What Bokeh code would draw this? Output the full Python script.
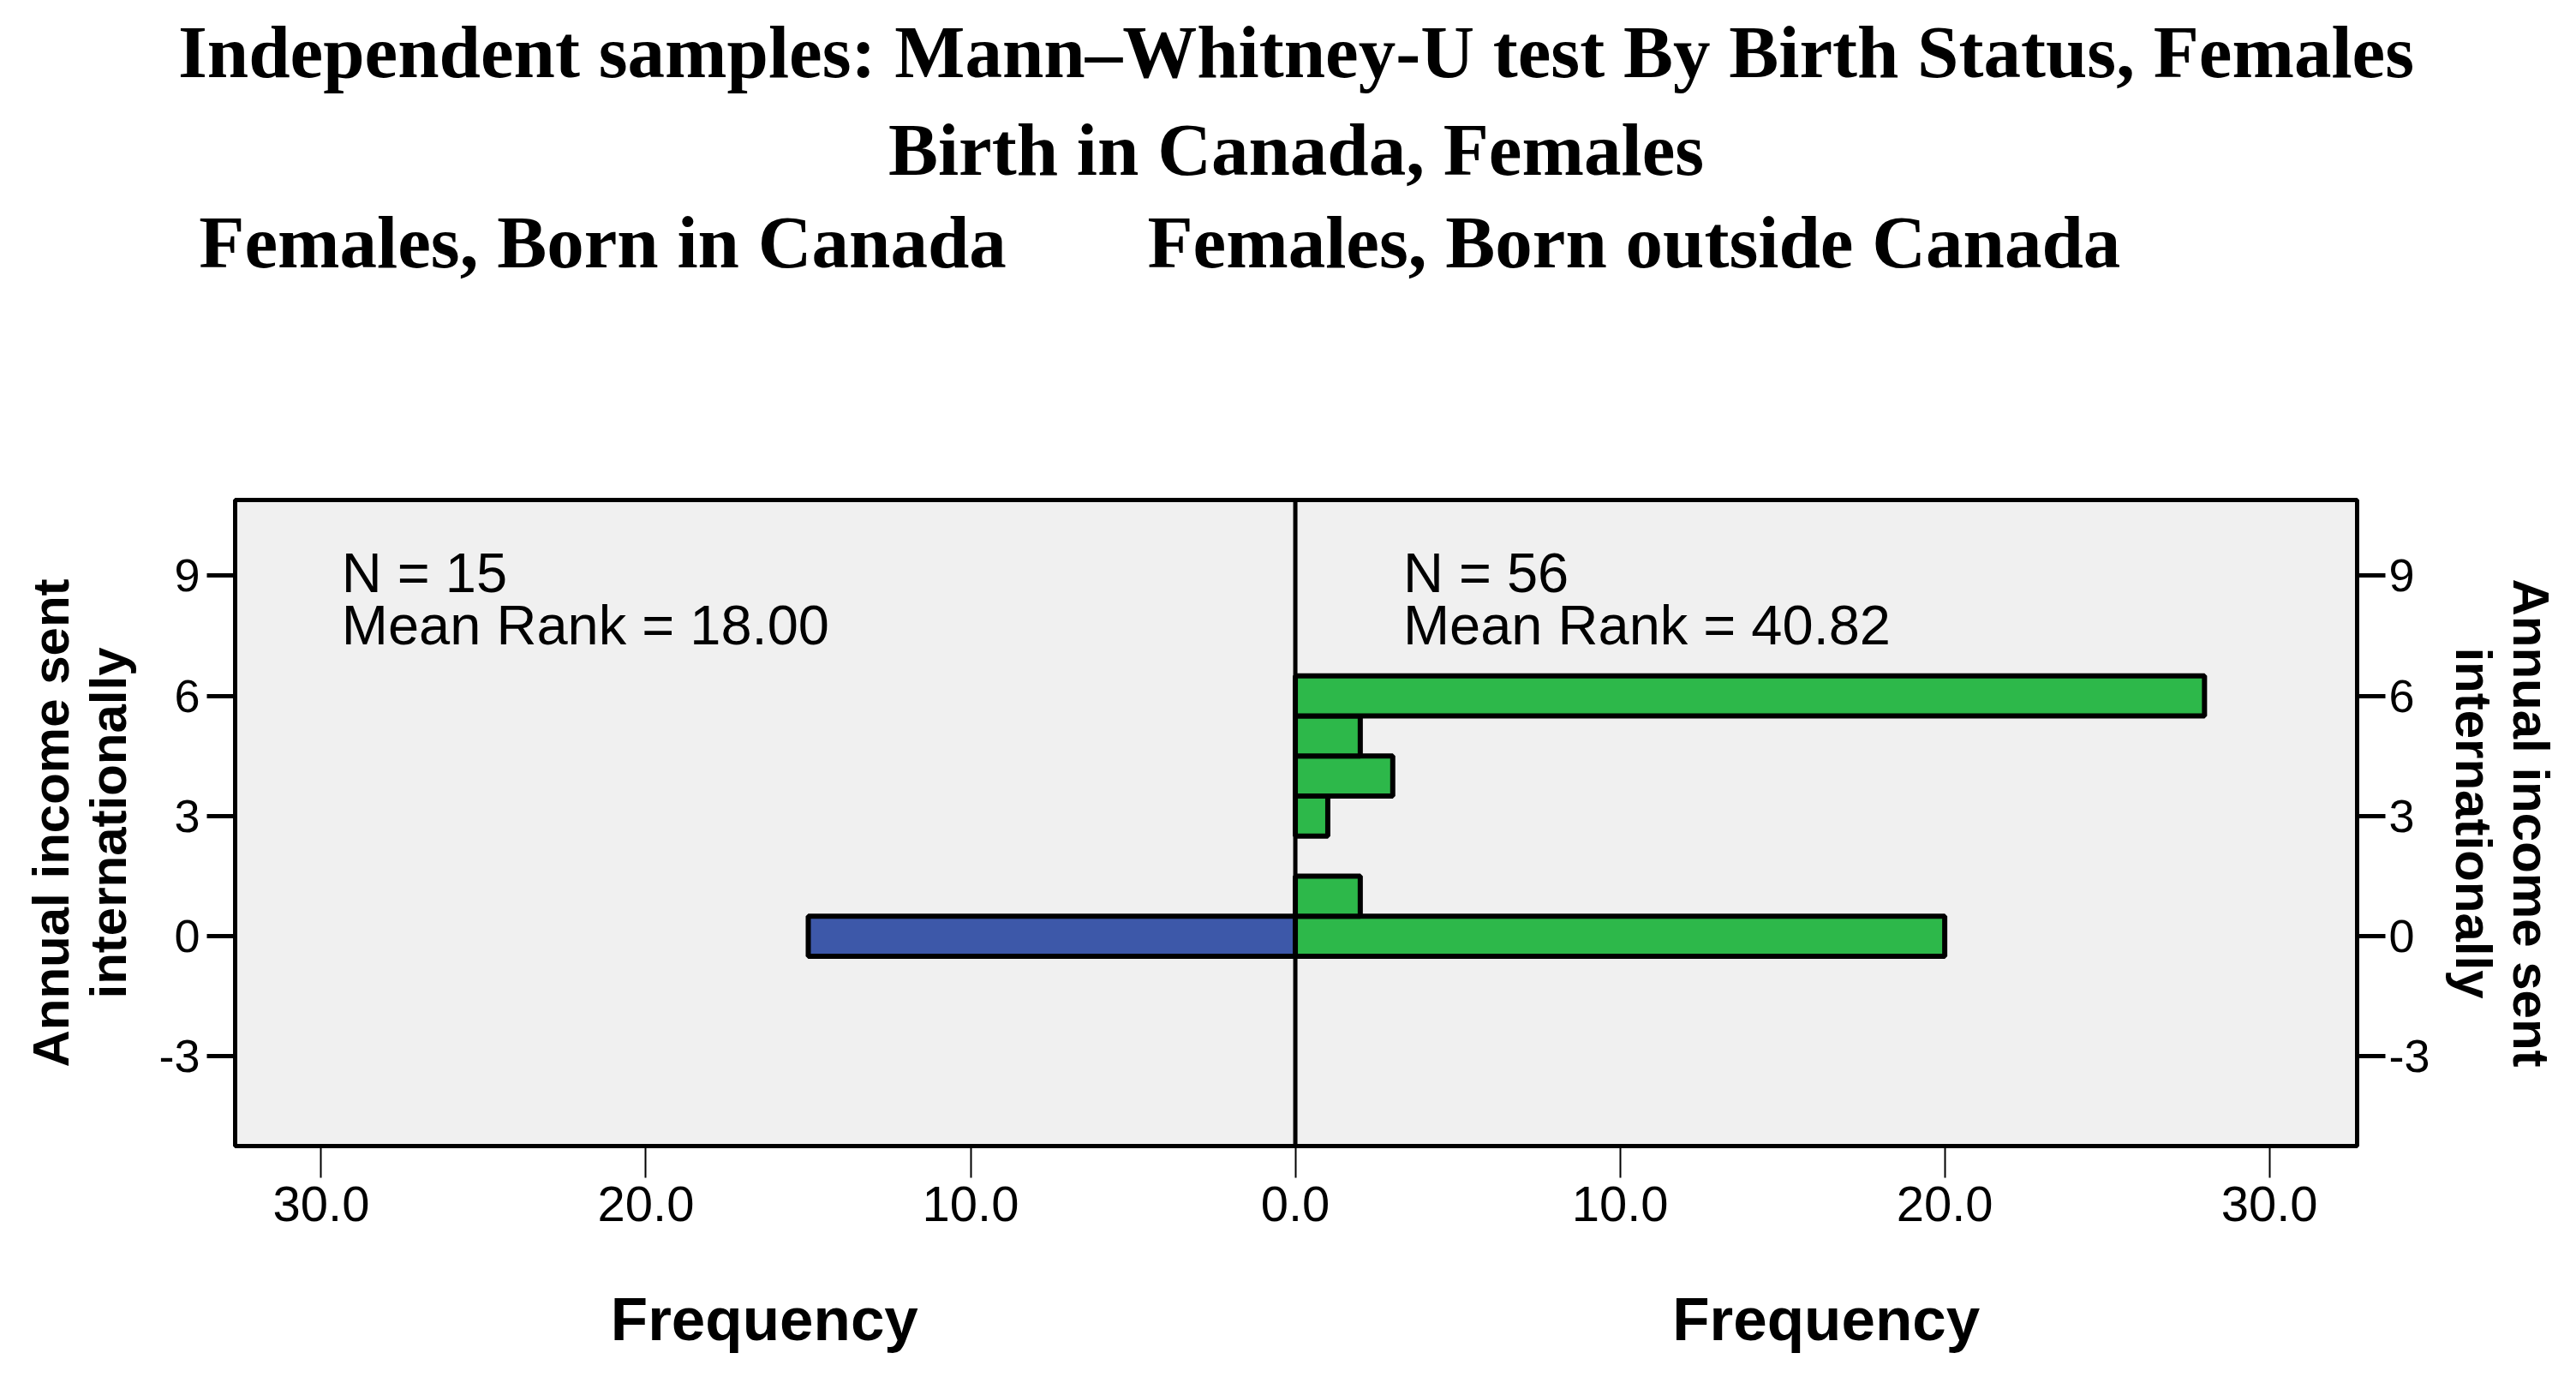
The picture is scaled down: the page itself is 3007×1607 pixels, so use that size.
from bokeh.plotting import figure
from bokeh.models import (Range1d, FixedTicker, CustomJSTickFormatter, LinearAxis,
                          Label, Span, ColumnDataSource, Title)
from bokeh.embed import file_html
from bokeh.resources import INLINE

# ---- data ----
income_bins = [0, 1, 2, 3, 4, 5, 6]
freq_born_in = [15, 0, 0, 0, 0, 0, 0]
freq_born_out = [20, 2, 0, 1, 3, 2, 28]
freq_ticks = [-30, -20, -10, 0, 10, 20, 30]
income_ticks = [-3, 0, 3, 6, 9]

title_lines = ["Independent samples: Mann\u2013Whitney-U test By Birth Status, Females",
               "Birth in Canada, Females"]
group_labels = ["Females, Born in Canada", "Females, Born outside Canada"]
group_n = [15, 56]
group_mean_rank = [18.00, 40.82]
y_label = "Annual income sent\ninternationally"
x_label = "Frequency"

BLUE = "#3d58a9"
GREEN = "#2db84a"
SANS = "Liberation Sans"
SERIF = "Liberation Serif"

W = 2990
H = 1590

p = figure(width=W, height=H, output_backend="svg", toolbar_location=None,
           x_range=Range1d(-32.65, 32.7), y_range=Range1d(-5.24, 10.89),
           min_border_left=274, min_border_right=W - 2755, min_border_top=583,
           min_border_bottom=H - 1337, y_axis_location=None, x_axis_location=None,
           title_location=None)
p.background_fill_color = "#f0f0f0"
p.border_fill_color = "white"
p.outline_line_color = "black"
p.outline_line_width = 5
p.xgrid.visible = False
p.ygrid.visible = False

left_src = ColumnDataSource(dict(
    y=[b for b, v in zip(income_bins, freq_born_in) if v > 0],
    left=[-v for v in freq_born_in if v > 0]))
right_src = ColumnDataSource(dict(
    y=[b for b, v in zip(income_bins, freq_born_out) if v > 0],
    right=[v for v in freq_born_out if v > 0]))
p.hbar(y="y", left="left", right=0, height=1, source=left_src,
       fill_color=BLUE, line_color="black", line_width=6)
p.hbar(y="y", left=0, right="right", height=1, source=right_src,
       fill_color=GREEN, line_color="black", line_width=6)

p.add_layout(Span(location=0, dimension="height", line_color="black", line_width=5))

# frequency axis
xaxis = LinearAxis(ticker=FixedTicker(ticks=freq_ticks),
                   formatter=CustomJSTickFormatter(code="return Math.abs(tick).toFixed(1);"))
xaxis.axis_line_color = None
xaxis.major_tick_in = 0
xaxis.major_tick_out = 37
xaxis.major_tick_line_width = 2
xaxis.minor_tick_line_color = None
xaxis.major_label_text_font = SANS
xaxis.major_label_text_font_size = "58px"
xaxis.major_label_text_color = "black"
xaxis.major_label_standoff = 10
p.add_layout(xaxis, "below")

# "Frequency" titles under each half, as labels of a second axis
flab = LinearAxis(ticker=FixedTicker(ticks=[-16.35, 16.35]),
                  formatter=CustomJSTickFormatter(args=dict(lbl=x_label), code="return lbl;"))
flab.axis_line_color = None
flab.major_tick_line_color = None
flab.major_tick_in = 0
flab.major_tick_out = 0
flab.minor_tick_line_color = None
flab.major_label_text_font = SANS
flab.major_label_text_font_style = "bold"
flab.major_label_text_font_size = "71px"
flab.major_label_text_color = "black"
flab.major_label_standoff = 72
p.add_layout(flab, "below")

for side in ("left", "right"):
    ax = LinearAxis(ticker=FixedTicker(ticks=income_ticks),
                    formatter=CustomJSTickFormatter(code="return String(tick);"))
    ax.axis_line_color = None
    ax.major_tick_in = 0
    ax.major_tick_out = 33
    ax.major_tick_line_width = 5
    ax.minor_tick_line_color = None
    ax.major_label_text_font = SANS
    ax.major_label_text_font_size = "54px"
    ax.major_label_text_color = "black"
    ax.major_label_standoff = 8 if side == "left" else 4
    ax.major_label_orientation = "horizontal"
    ax.axis_label = y_label
    ax.axis_label_text_font = SANS
    ax.axis_label_text_font_style = "bold"
    ax.axis_label_text_font_size = "60px"
    ax.axis_label_text_color = "black"
    ax.axis_label_text_line_height = 1.0
    ax.axis_label_standoff = 22 if side == "left" else 14
    p.add_layout(ax, side)

# group titles (third header line) as labels of an axis above the frame
glab = LinearAxis(ticker=FixedTicker(ticks=[-21.33, 10.43]),
                  formatter=CustomJSTickFormatter(args=dict(labels=group_labels),
                                                  code="return tick < 0 ? labels[0] : labels[1];"))
glab.axis_line_color = None
glab.major_tick_line_color = None
glab.major_tick_in = 0
glab.major_tick_out = 0
glab.minor_tick_line_color = None
glab.major_label_text_font = SERIF
glab.major_label_text_font_style = "bold"
glab.major_label_text_font_size = "87px"
glab.major_label_text_color = "black"
glab.major_label_standoff = 253
p.add_layout(glab, "above")

for line in reversed(title_lines):
    p.add_layout(Title(text=line, align="center", text_font=SERIF, text_font_style="bold",
                       text_font_size="87px", text_color="black", standoff=15), "above")

# N / mean rank annotations
for xpos, n, mr in zip([-29.37, 3.32], group_n, group_mean_rank):
    p.add_layout(Label(x=xpos, y=9.08, text=f"N = {n}", text_align="left",
                       text_baseline="alphabetic", text_font=SANS, text_font_size="65px",
                       text_color="black"))
    p.add_layout(Label(x=xpos, y=7.77, text=f"Mean Rank = {mr:.2f}", text_align="left",
                       text_baseline="alphabetic", text_font=SANS, text_font_size="65px",
                       text_color="black"))

open("out.html", "w").write(file_html(p, INLINE))
